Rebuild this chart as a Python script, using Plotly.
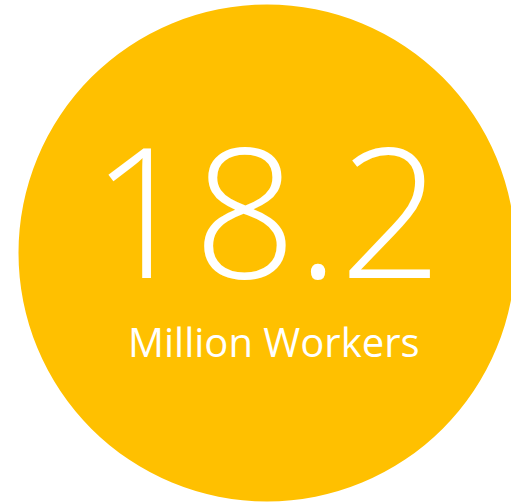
import plotly.graph_objects as go

value_text = ["18.2"]
label_text = ["Million Workers"]
circle_color = "#FFC000"

W, H = 511, 502
cx, cy, r = 267, 253, 248.5

fig = go.Figure()
fig.add_trace(go.Scatter(x=[0, W], y=[0, H], mode="markers",
                         marker=dict(opacity=0), hoverinfo="skip", showlegend=False))
fig.add_shape(type="circle", xref="x", yref="y",
              x0=cx - r, x1=cx + r, y0=cy - r, y1=cy + r,
              fillcolor=circle_color, line=dict(width=0), layer="below")

fig.add_annotation(x=266.6, y=208, xref="x", yref="y", text=value_text[0],
                   showarrow=False, xanchor="center", yanchor="middle",
                   font=dict(family="Open Sans", size=180, color="white", weight=300))
fig.add_annotation(x=273.5, y=341, xref="x", yref="y", text=label_text[0],
                   showarrow=False, xanchor="center", yanchor="middle",
                   font=dict(family="Open Sans", size=40, color="white", weight=400))

fig.update_layout(width=W, height=H, margin=dict(l=0, r=0, t=0, b=0),
                  paper_bgcolor="white", plot_bgcolor="white",
                  xaxis=dict(range=[0, W], visible=False, fixedrange=True),
                  yaxis=dict(range=[H, 0], visible=False, fixedrange=True),
                  showlegend=False)
fig.write_html("out.html", config={"displayModeBar": False},
               post_script="document.body.style.margin='0';document.body.style.overflow='hidden';")
